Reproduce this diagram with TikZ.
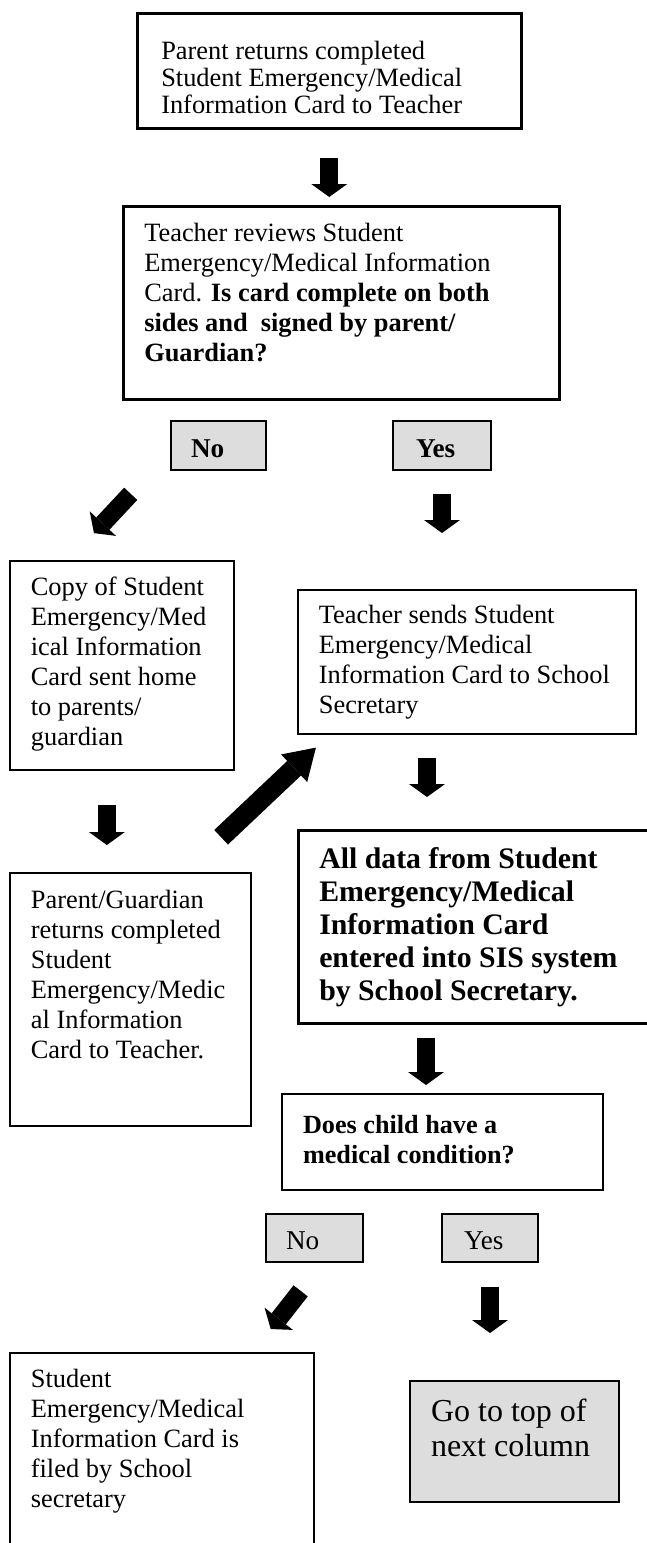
\documentclass[tikz,border=0pt]{standalone}
\usepackage{fontspec}
\setmainfont{Liberation Serif}
\usetikzlibrary{arrows.meta}
\definecolor{boxgray}{HTML}{DDDDDD}
\newcommand{\boxtext}[4]{\parbox[t][#1][t]{#2}{\raggedright\vspace*{\dimexpr#3-\ht\strutbox\relax}\strut#4}}

\begin{document}
\begin{tikzpicture}[x=0.5pt, y=-0.5pt,
	card/.style={draw, anchor=north west, inner xsep=10.5pt, inner ysep=0pt, line width=.85pt, font=\fontsize{13.2}{15}\selectfont},
	heavy/.style={card, line width=1.25pt},
	choice/.style={card, fill=boxgray, line width=1pt, inner xsep=10pt, font=\fontsize{13.6}{15}\selectfont},
	blockarrow/.style={line width=9pt, -{Triangle[width=18pt, length=6.5pt, line width=0pt]}},
	longarrow/.style={line width=10pt, -{Triangle[width=19pt, length=15pt, line width=0pt]}}]
			\useasboundingbox (0,0) rectangle (647,1543);
			\clip (0,0) rectangle (647,1543);
			
			\node[heavy, inner xsep=12pt, font=\fontsize{13.2}{13.5}\selectfont] (parent) at (136,12) {\boxtext{57.5pt}{168pt}{23pt}{Parent returns completed\\Student Emergency/Medical\\Information Card to Teacher}};
			\node[heavy] (review) at (122,205) {\boxtext{96.5pt}{197pt}{17.5pt}{Teacher reviews Student\\Emergency/Medical Information\\Card. \textbf{Is card complete on both\\sides and\ \ signed by parent/\\Guardian?}}};
			\node[choice, font=\fontsize{13.6}{15}\selectfont\bfseries] (noanswer) at (170,420) {\boxtext{24.5pt}{27.5pt}{18pt}{No}};
			\node[choice, inner xsep=11.5pt, font=\fontsize{13.6}{15}\selectfont\bfseries] (yesanswer) at (392,420) {\boxtext{24.5pt}{26pt}{18pt}{Yes}};
			\node[card] (copyhome) at (9,560) {\boxtext{104.5pt}{91pt}{17.5pt}{Copy of Student\\Emergency/Med\\ical Information\\Card sent home\\to parents/\\guardian}};
			\node[card] (sends) at (297,589) {\boxtext{72pt}{148pt}{17pt}{Teacher sends Student\\Emergency/Medical\\Information Card to School\\Secretary}};
			\node[card] (guardian) at (9,872) {\boxtext{126.5pt}{99.5pt}{18pt}{Parent/Guardian\\returns completed\\Student\\Emergency/Medic\\al Information\\Card to Teacher.}};
			\node[heavy, font=\fontsize{14.9}{16.5}\selectfont\bfseries] (entered) at (297,829) {\boxtext{96.5pt}{159pt}{19pt}{All data from Student\\Emergency/Medical\\Information Card\\entered into SIS system\\by School Secretary.}};
			\node[heavy, line width=1pt, font=\fontsize{13.1}{15}\selectfont\bfseries] (condition) at (281,1093) {\boxtext{48pt}{139.5pt}{19.5pt}{Does child have a\\medical condition?}};
			\node[choice] (nocond) at (265,1213) {\boxtext{24pt}{28.5pt}{17.5pt}{No}};
			\node[choice, inner xsep=11pt] (yescond) at (441,1213) {\boxtext{24pt}{26pt}{17.5pt}{Yes}};
			\node[card] (filed) at (9,1352) {\boxtext{104pt}{131pt}{17.5pt}{Student\\Emergency/Medical\\Information Card is\\filed by School\\secretary}};
			\node[choice, inner xsep=10.5pt, font=\fontsize{16}{17.5}\selectfont] (nextcol) at (409,1380) {\boxtext{60.5pt}{83.5pt}{20pt}{Go to top of\\next column}};
			
			\coordinate (copyfoot) at ([xshift=-7.5pt]copyhome.south);
			\coordinate (sendsfoot) at ([xshift=65pt]sends.south west);
			\coordinate (enteredfoot) at ([xshift=64.5pt]entered.south west);
			
			\draw[blockarrow, shorten <=14pt, shorten >=4pt] (parent.south) -- (parent.south |- review.north);
			\draw[blockarrow, shorten <=15.6pt, shorten >=18.4pt] ([shift={(-18,0)}]noanswer.south west) -- ([shift={(-53,0)}]copyhome.north);
			\draw[blockarrow, shorten <=11.5pt, shorten >=28pt] (yesanswer.south) -- (yesanswer.south |- sends.north);
			\draw[blockarrow, shorten <=17pt, shorten >=13.5pt] (copyfoot) -- (copyfoot |- guardian.north);
			\draw[longarrow, shorten <=25.3pt, shorten >=9.4pt] ([shift={(54,0)}]guardian.north) -- ([shift={(32.6,0)}]sends.south west);
			\draw[blockarrow, shorten <=11.5pt, shorten >=16pt] (sendsfoot) -- (sendsfoot |- entered.north);
			\draw[blockarrow, shorten <=6.5pt, shorten >=4pt] (enteredfoot) -- (enteredfoot |- condition.north);
			\draw[blockarrow, shorten <=17.7pt, shorten >=14.6pt] ([shift={(8,0)}]nocond.south) -- ([shift={(-62,0)}]filed.north east);
			\draw[blockarrow, shorten <=12pt, shorten >=23.5pt] (yescond.south) -- (yescond.south |- nextcol.north);
		\end{tikzpicture}
\end{document}
